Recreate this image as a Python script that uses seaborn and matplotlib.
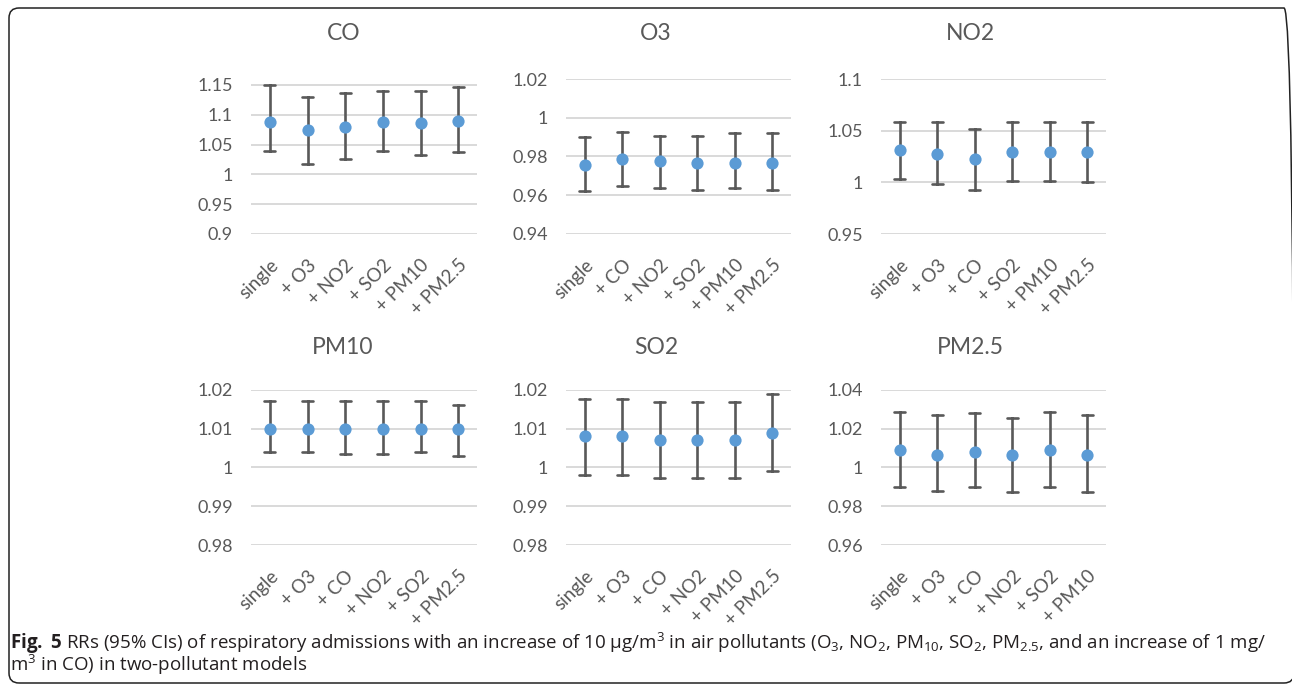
import matplotlib
matplotlib.use("Agg")
import matplotlib.pyplot as plt
from matplotlib.patches import FancyBboxPatch
from matplotlib.transforms import IdentityTransform
import numpy as np
import pandas as pd
import seaborn as sns

# ---- data: relative risks with 95% confidence limits ----
co_models = ["single", "+ O3", "+ NO2", "+ SO2", "+ PM10", "+ PM2.5"]
co_rr = [1.088, 1.075, 1.080, 1.088, 1.087, 1.090]
co_lo = [1.040, 1.018, 1.026, 1.040, 1.033, 1.038]
co_hi = [1.150, 1.130, 1.137, 1.140, 1.140, 1.147]

o3_models = ["single", "+ CO", "+ NO2", "+ SO2", "+ PM10", "+ PM2.5"]
o3_rr = [0.9755, 0.9787, 0.9778, 0.9765, 0.9765, 0.9766]
o3_lo = [0.9621, 0.9648, 0.9638, 0.9628, 0.9638, 0.9628]
o3_hi = [0.9899, 0.9926, 0.9905, 0.9905, 0.9921, 0.9921]

no2_models = ["single", "+ O3", "+ CO", "+ SO2", "+ PM10", "+ PM2.5"]
no2_rr = [1.0313, 1.0271, 1.0222, 1.0296, 1.0296, 1.0296]
no2_lo = [1.0029, 0.9987, 0.9923, 1.0016, 1.0016, 1.0006]
no2_hi = [1.0587, 1.0587, 1.0519, 1.0587, 1.0587, 1.0587]

pm10_models = ["single", "+ O3", "+ CO", "+ NO2", "+ SO2", "+ PM2.5"]
pm10_rr = [1.010, 1.010, 1.010, 1.010, 1.010, 1.010]
pm10_lo = [1.0039, 1.0039, 1.0035, 1.0035, 1.0039, 1.0029]
pm10_hi = [1.0171, 1.0171, 1.0171, 1.0171, 1.0171, 1.0161]

so2_models = ["single", "+ O3", "+ CO", "+ NO2", "+ PM10", "+ PM2.5"]
so2_rr = [1.008, 1.008, 1.007, 1.007, 1.007, 1.009]
so2_lo = [0.9981, 0.9981, 0.9972, 0.9972, 0.9972, 0.9992]
so2_hi = [1.0178, 1.0178, 1.0170, 1.0170, 1.0170, 1.0190]

pm25_models = ["single", "+ O3", "+ CO", "+ NO2", "+ SO2", "+ PM10"]
pm25_rr = [1.0088, 1.0065, 1.0080, 1.0065, 1.0088, 1.0065]
pm25_lo = [0.9898, 0.9878, 0.9898, 0.9871, 0.9898, 0.9871]
pm25_hi = [1.0288, 1.0270, 1.0280, 1.0258, 1.0288, 1.0270]

panel_titles = ["CO", "O3", "NO2", "PM10", "SO2", "PM2.5"]
panel_ticks = [
    [0.9, 0.95, 1.0, 1.05, 1.1, 1.15],
    [0.94, 0.96, 0.98, 1.0, 1.02],
    [0.95, 1.0, 1.05, 1.1],
    [0.98, 0.99, 1.0, 1.01, 1.02],
    [0.98, 0.99, 1.0, 1.01, 1.02],
    [0.96, 0.98, 1.0, 1.02, 1.04],
]
panel_ylim = [(0.9, 1.16), (0.94, 1.02), (0.95, 1.1),
              (0.98, 1.02), (0.98, 1.02), (0.96, 1.04)]

panels = [
    (co_models, co_rr, co_lo, co_hi),
    (o3_models, o3_rr, o3_lo, o3_hi),
    (no2_models, no2_rr, no2_lo, no2_hi),
    (pm10_models, pm10_rr, pm10_lo, pm10_hi),
    (so2_models, so2_rr, so2_lo, so2_hi),
    (pm25_models, pm25_rr, pm25_lo, pm25_hi),
]

caption = (
    r"$\mathbf{Fig.\ 5}$ RRs (95% CIs) of respiratory admissions with an "
    r"increase of 10 μg/m$^{3}$ in air pollutants (O$_{3}$, NO$_{2}$, "
    r"PM$_{10}$, SO$_{2}$, PM$_{2.5}$, and an increase of 1 mg/" "\n"
    r"m$^{3}$ in CO) in two-pollutant models"
)

# ---- styling ----
sns.set_theme(style="white")
plt.rcParams["font.family"] = ["Lato", "DejaVu Sans"]
plt.rcParams["mathtext.fontset"] = "custom"
plt.rcParams["mathtext.rm"] = "Open Sans"
plt.rcParams["mathtext.bf"] = "Open Sans:bold"
plt.rcParams["mathtext.it"] = "Open Sans:italic"
plt.rcParams["mathtext.default"] = "regular"

W, H = 1292, 685
fig = plt.figure(figsize=(W / 100, H / 100), dpi=100)
fig.patch.set_facecolor("white")

POINT = "#5b9bd5"
BAR = "#595959"
GRID = "#d9d9d9"
TEXT = "#595959"

col_x = [(251, 477), (566, 791), (881, 1106)]
row_y = [(79, 234), (390, 545)]
title_pos = [(344, 33), (656, 33), (970, 33), (343, 347), (656, 347), (970, 347)]


def ci_range(v):
    return (float(np.min(v)), float(np.max(v)))


for i, (models, rr, lo, hi) in enumerate(panels):
    r, c = divmod(i, 3)
    x0, x1 = col_x[c]
    yt, yb = row_y[r]
    ax = fig.add_axes([x0 / W, (H - yb) / H, (x1 - x0) / W, (yb - yt) / H])

    df = pd.DataFrame({
        "model": np.repeat(models, 3),
        "rr": np.ravel(np.column_stack([lo, rr, hi])),
    })
    sns.pointplot(
        data=df, x="model", y="rr", order=models, ax=ax,
        estimator="median", errorbar=ci_range,
        linestyle="none", marker="o", color=POINT,
        markersize=8.8, markeredgewidth=0, zorder=4,
        capsize=0.3,
        err_kws={"color": BAR, "linewidth": 1.9, "zorder": 3},
    )

    ticks = panel_ticks[i]
    ax.set_ylim(*panel_ylim[i])
    ax.set_yticks(ticks)
    ax.set_yticklabels([f"{round(t, 4):g}" for t in ticks])
    ax.set_xlim(-0.5, len(models) - 0.5)
    ax.set_xlabel("")
    ax.set_ylabel("")
    ax.grid(axis="y", color=GRID, linewidth=1.4)
    ax.grid(axis="x", visible=False)
    ax.set_axisbelow(True)
    for s in ax.spines.values():
        s.set_visible(False)
    ax.tick_params(axis="y", length=0, pad=13, labelsize=13, labelcolor=TEXT)
    ax.tick_params(axis="x", length=0, pad=16, labelsize=13.5, labelcolor=TEXT)
    for lab in ax.get_xticklabels():
        lab.set_rotation(45)
        lab.set_ha("right")
        lab.set_va("top")
        lab.set_rotation_mode("anchor")

    tx, ty = title_pos[i]
    fig.text(tx / W, (H - ty) / H, panel_titles[i], ha="center", va="center",
             fontsize=16.5, color=TEXT)

# rounded frame around the chart area
frame = FancyBboxPatch((9, 2), 1285, 675,
                       boxstyle="round,pad=0,rounding_size=10",
                       transform=IdentityTransform(),
                       facecolor="none", edgecolor="#222222", linewidth=1.1)
fig.patches.append(frame)

fig.text(10 / W, (H - 631) / H, caption, ha="left", va="top",
         fontsize=13.5, color="#231f20", linespacing=0.85,
         family=["Open Sans", "DejaVu Sans"])

fig.savefig("out.png", dpi=100)
